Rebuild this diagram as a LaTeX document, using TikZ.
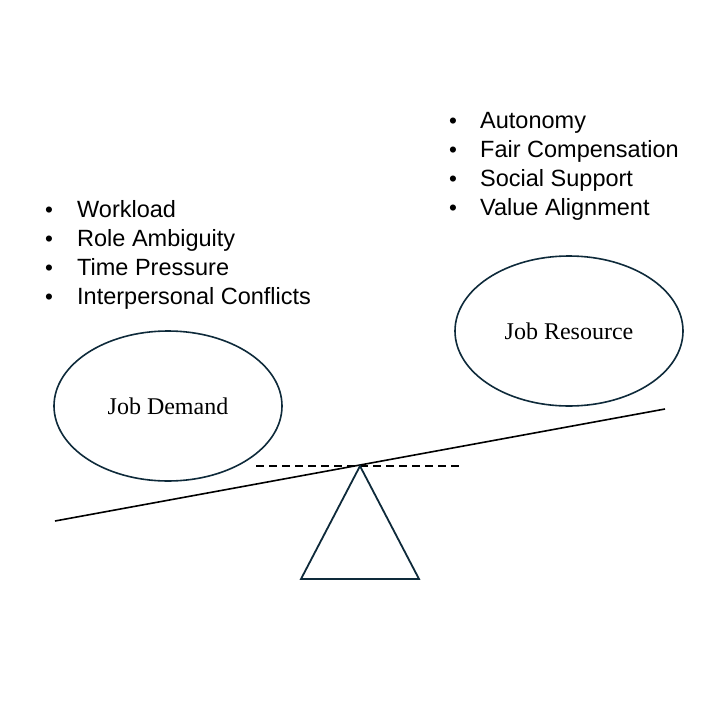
\documentclass[tikz,border=0pt]{standalone}
\usepackage{fontspec}
\setmainfont{Liberation Serif}
\newfontfamily\listfont{Liberation Sans}
\usetikzlibrary{shapes.geometric}
\definecolor{navy}{HTML}{0E2A3A}
\tikzset{
  bubble/.style={draw=navy, line width=1.6pt, ellipse, inner sep=0pt,
    minimum width=228pt, minimum height=150pt,
    font=\fontsize{24}{28}\selectfont},
  item/.style={anchor=base west, inner sep=0pt, font=\listfont\fontsize{23.5}{28}\selectfont},
  dot/.style={anchor=base west, inner sep=0pt, font=\listfont\fontsize{22.5}{26}\selectfont},
  beam/.style={line width=1.6pt, black},
  level/.style={line width=1.6pt, black, dash pattern=on 8pt off 5pt},
  fulcrum/.style={draw=navy, line width=1.8pt, line join=miter}
}
\begin{document}
\begin{tikzpicture}[x=1pt, y=-1pt]
\useasboundingbox (0,0) rectangle (720,720);
% ellipses
\node[bubble] (demand) at (168,406) {Job Demand};
\node[bubble] (resource) at (569,331) {Job Resource};
% left list
\foreach \t [count=\i] in {Workload, Role Ambiguity, Time Pressure, Interpersonal Conflicts} {
  \node[dot] (ldot\i) at (45,{188+29*\i}) {\textbullet};
  \node[item] (litem\i) at (77,{188+29*\i}) {\t};
}
% right list
\foreach \t [count=\i] in {Autonomy, Fair Compensation, Social Support, Value Alignment} {
  \node[dot] (rdot\i) at (449,{99+29*\i}) {\textbullet};
  \node[item] (ritem\i) at (480,{99+29*\i}) {\t};
}
% seesaw
\coordinate (beamL) at (55,521);
\coordinate (beamR) at (665,409);
\coordinate (levL) at (256,466);
\coordinate (levR) at (460,466);
\coordinate (apex) at (360,466);
\coordinate (baseL) at (301,579);
\coordinate (baseR) at (419,579);
\draw[level] (levL) -- (levR);
\draw[beam] (beamL) -- (beamR);
\draw[fulcrum] (apex) -- (baseR) -- (baseL) -- cycle;
\end{tikzpicture}
\end{document}
